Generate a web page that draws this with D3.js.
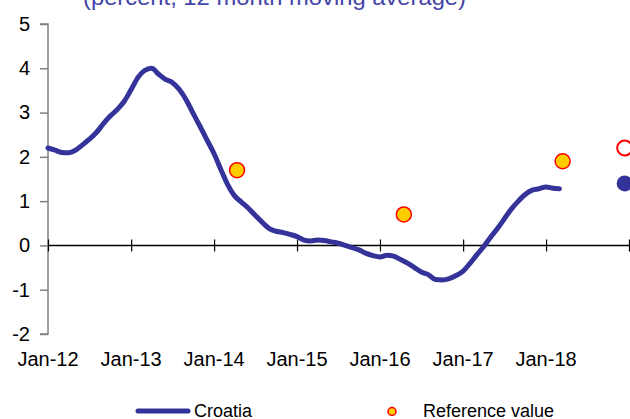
<!DOCTYPE html>
<html>
<head>
<meta charset="utf-8">
<script src="https://cdn.jsdelivr.net/npm/d3@7"></script>
<style>
  body { margin: 0; background: #fff; }
  svg { display: block; font-family: "Liberation Sans", Arial, sans-serif; }
</style>
</head>
<body>
<div id="chart"></div>
<script>
// Croatia HICP inflation, 12 month moving average, monthly from Jan-12
const startMonth = '2012-01';
const croatia = [
  2.20, 2.15, 2.10, 2.09, 2.15, 2.27, 2.40, 2.55, 2.75, 2.92, 3.07, 3.25,
  3.52, 3.80, 3.95, 4.00, 3.87, 3.75, 3.68, 3.52, 3.28, 2.98, 2.68, 2.38,
  2.07, 1.70, 1.38, 1.12, 0.98, 0.84, 0.68, 0.52, 0.38, 0.32, 0.29, 0.25,
  0.20, 0.12, 0.10, 0.12, 0.11, 0.08, 0.05, 0.00, -0.05, -0.10, -0.18, -0.23,
  -0.26, -0.22, -0.24, -0.32, -0.40, -0.50, -0.60, -0.66, -0.77, -0.78, -0.75, -0.68,
  -0.58, -0.40, -0.22, -0.03, 0.18, 0.38, 0.60, 0.82, 1.00, 1.15, 1.25, 1.28,
  1.32, 1.29, 1.28
];

// reference values
const refDates = ['2014-04-12', '2016-04-15', '2018-03-15'];
const refValues = [1.7, 0.7, 1.9];

// forecast markers
const forecastDate = '2018-12-13';
const forecastRef = 2.2;
const forecastCroatia = 1.4;

const yTicks = [-2, -1, 0, 1, 2, 3, 4, 5];
const xTickLabels = ['Jan-12', 'Jan-13', 'Jan-14', 'Jan-15', 'Jan-16', 'Jan-17', 'Jan-18', ''];

const width = 630, height = 419;
const parse = d3.timeParse('%Y-%m-%d');
const parseMonth = d3.timeParse('%Y-%m');

const svg = d3.select('#chart').append('svg')
  .attr('width', width)
  .attr('height', height);

const x = d3.scaleTime()
  .domain([parse('2012-01-01'), parse('2019-01-01')])
  .range([48, 629]);

const y = d3.scaleLinear()
  .domain([-2, 5])
  .range([334, 24]);

// title (cut off at top)
svg.append('text')
  .attr('x', 83)
  .attr('y', 5)
  .attr('textLength', 383)
  .attr('lengthAdjust', 'spacingAndGlyphs')
  .style('font-size', '22px')
  .style('fill', '#4444a8')
  .text('(percent, 12 month moving average)');

// y axis
const yAxis = svg.append('g')
  .attr('transform', 'translate(48,0)')
  .call(d3.axisLeft(y).tickValues(yTicks).tickSize(8).tickPadding(10).tickFormat(d => String(d)));
yAxis.select('.domain').attr('stroke', '#808080').attr('stroke-width', 1.5).attr('d', `M-8,${y(5)}H0V${y(-2)}H-8`);
yAxis.selectAll('.tick line').attr('stroke', '#808080').attr('stroke-width', 1.5);
yAxis.selectAll('.tick text')
  .style('font-size', '20px')
  .style('fill', '#000')
  .style('font-family', '"Liberation Sans", Arial, sans-serif');

// x axis along zero line
const xTicks = d3.range(8).map(i => d3.timeYear.offset(parse('2012-01-01'), i));
const xAxis = svg.append('g')
  .attr('transform', `translate(0,${y(0)})`)
  .call(d3.axisBottom(x).tickValues(xTicks).tickSize(0).tickFormat(''));
xAxis.select('.domain').attr('stroke', '#000').attr('stroke-width', 1.5).attr('d', `M48,0H630`);
xAxis.selectAll('.tick line')
  .attr('stroke', '#000')
  .attr('stroke-width', 1.2)
  .attr('y1', -6)
  .attr('y2', 6);

// x labels at the bottom
svg.append('g')
  .selectAll('text')
  .data(xTicks)
  .join('text')
  .attr('x', d => x(d))
  .attr('y', 366)
  .attr('text-anchor', 'middle')
  .style('font-size', '20px')
  .style('fill', '#000')
  .text((d, i) => xTickLabels[i]);

// croatia line
const start = parseMonth(startMonth);
const line = d3.line()
  .x((d, i) => x(d3.timeMonth.offset(start, i)))
  .y(d => y(d))
  .curve(d3.curveMonotoneX);

svg.append('path')
  .datum(croatia)
  .attr('fill', 'none')
  .attr('stroke', '#333399')
  .attr('stroke-width', 5)
  .attr('stroke-linecap', 'round')
  .attr('stroke-linejoin', 'round')
  .attr('d', line);

// reference value points
svg.append('g')
  .selectAll('circle')
  .data(refValues)
  .join('circle')
  .attr('cx', (d, i) => x(parse(refDates[i])))
  .attr('cy', d => y(d))
  .attr('r', 7.5)
  .attr('fill', '#ffcc00')
  .attr('stroke', '#ff0000')
  .attr('stroke-width', 1.5);

// forecast markers
svg.append('circle')
  .attr('cx', x(parse(forecastDate)))
  .attr('cy', y(forecastRef))
  .attr('r', 7.5)
  .attr('fill', '#fff')
  .attr('stroke', '#ff0000')
  .attr('stroke-width', 2);

svg.append('circle')
  .attr('cx', x(parse(forecastDate)))
  .attr('cy', y(forecastCroatia))
  .attr('r', 8)
  .attr('fill', '#333399');

// legend
const legend = svg.append('g');
legend.append('line')
  .attr('x1', 138).attr('x2', 188)
  .attr('y1', 411).attr('y2', 411)
  .attr('stroke', '#333399')
  .attr('stroke-width', 5)
  .attr('stroke-linecap', 'round');
legend.append('text')
  .attr('x', 194).attr('y', 417)
  .style('font-size', '18px')
  .text('Croatia');
legend.append('circle')
  .attr('cx', 392).attr('cy', 411.5)
  .attr('r', 4)
  .attr('fill', '#ffcc00')
  .attr('stroke', '#ff0000')
  .attr('stroke-width', 1.5);
legend.append('text')
  .attr('x', 423).attr('y', 417)
  .style('font-size', '18px')
  .text('Reference value');
</script>
</body>
</html>
